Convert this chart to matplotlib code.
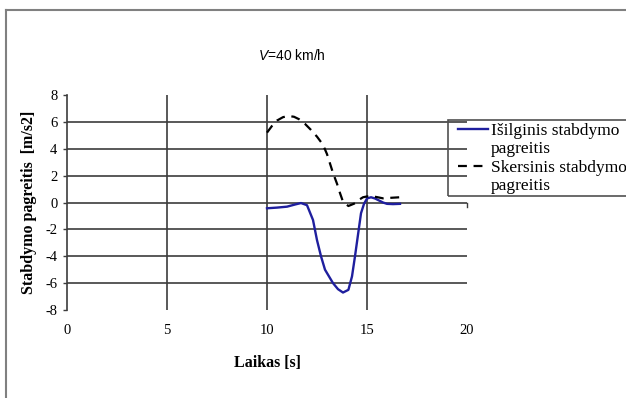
import matplotlib
matplotlib.use("Agg")
from matplotlib import pyplot as plt
from matplotlib.lines import Line2D
from matplotlib.patches import Rectangle

# values
t_long = [10.0, 10.5, 11.0, 11.4, 11.7, 12.0, 12.3, 12.5, 12.7, 12.9, 13.1, 13.3, 13.55,
          13.8, 14.07, 14.25, 14.4, 14.55, 14.7, 14.85, 15.0, 15.2, 15.4, 15.6, 15.8, 16.0, 16.3, 16.65]
a_long = [-0.43, -0.38, -0.31, -0.15, -0.04, -0.2, -1.3, -2.8, -4.0, -5.0, -5.5, -6.0, -6.45,
          -6.7, -6.5, -5.5, -4.0, -2.4, -0.8, -0.1, 0.3, 0.39, 0.3, 0.15, 0.0, -0.1, -0.12, -0.1]

t_lat = [10.0, 10.25, 10.5, 10.8, 11.07, 11.35, 11.6, 11.9, 12.2, 12.5, 12.8, 13.0, 13.15,
         13.3, 13.5, 13.65, 13.8, 14.07, 14.4, 14.6, 14.8, 15.0, 15.2, 15.5, 15.8, 16.2, 16.65]
a_lat = [5.2, 5.7, 6.1, 6.35, 6.44, 6.38, 6.2, 5.85, 5.4, 4.9, 4.3, 3.6, 2.9,
         2.2, 1.4, 0.7, 0.06, -0.26, -0.06, 0.2, 0.39, 0.45, 0.48, 0.4, 0.31, 0.35, 0.39]

x_ticks = [0, 5, 10, 15, 20]
y_ticks = [-8, -6, -4, -2, 0, 2, 4, 6, 8]
labels = ["Išilginis stabdymo", "pagreitis", "Skersinis stabdymo", "pagreitis"]

plt.rcParams['mathtext.fontset'] = 'custom'
plt.rcParams['mathtext.it'] = 'Liberation Sans:italic'
plt.rcParams['mathtext.rm'] = 'Liberation Sans'
plt.rcParams['axes.unicode_minus'] = False

W, H = 626, 398
fig = plt.figure(figsize=(W / 100, H / 100), dpi=100)
ax = fig.add_axes([67 / W, (H - 310) / H, 400 / W, 215 / H])

grid_c = '#3c3c3c'
ax.plot(t_long, a_long, color='#1f1f9e', lw=1.7, zorder=3)
ax.plot(t_lat, a_lat, color='black', lw=1.6, ls=(0, (4, 3)), zorder=3)

ax.set_xlim(0, 20)
ax.set_ylim(-8, 8)
ax.set_xticks(x_ticks)
ax.set_yticks(y_ticks)
ax.grid(True, color=grid_c, lw=1.2)
for g in (ax.yaxis.get_gridlines()[0], ax.yaxis.get_gridlines()[-1],
          ax.xaxis.get_gridlines()[0], ax.xaxis.get_gridlines()[-1]):
    g.set_visible(False)
for s in ('top', 'right', 'bottom'):
    ax.spines[s].set_visible(False)
ax.spines['left'].set_color(grid_c)
ax.spines['left'].set_linewidth(1.2)
ax.tick_params(axis='y', length=3, width=1.0, color=grid_c, pad=4)
ax.tick_params(axis='x', length=0, pad=10)
for lab in ax.get_xticklabels() + ax.get_yticklabels():
    lab.set_fontfamily('Liberation Serif')
    lab.set_fontsize(10.5)
# small tick at the end of the zero line
ax.plot([20, 20], [0, -0.3], color=grid_c, lw=1.0, clip_on=False)

ax.set_xlabel('Laikas [s]', fontfamily='Liberation Serif', fontweight='bold',
              fontsize=11.5, labelpad=13)
ax.set_ylabel('Stabdymo pagreitis  [m/s2]', fontfamily='Liberation Serif',
              fontweight='bold', fontsize=11.5, labelpad=6)

fig.text(292 / W, 1 - 56 / H, r'$V$=40 km/h', family='Liberation Sans',
         fontsize=10, ha='center', va='center')

# legend
handles = [Line2D([], [], color='#1f1f9e', lw=1.7), Line2D([], [], lw=0),
           Line2D([], [], color='black', lw=1.6, ls=(0, (4, 3))), Line2D([], [], lw=0)]
leg = fig.legend(handles, labels, loc='upper left',
                 bbox_to_anchor=(458 / W, 1 - 123 / H), frameon=False,
                 prop={'family': 'Liberation Serif', 'size': 12.5},
                 handlelength=1.75, handletextpad=0.15, labelspacing=0.12,
                 borderpad=0.0, borderaxespad=0)
fig.add_artist(Rectangle((448 / W, 1 - 196 / H), 200 / W, 76 / H,
                         transform=fig.transFigure, fill=False,
                         edgecolor='#505050', lw=1.2))

# outer chart frame
fig.add_artist(Line2D([6 / W, 1.0], [1 - 10 / H, 1 - 10 / H],
                      transform=fig.transFigure, color='#808080', lw=1.5))
fig.add_artist(Line2D([6 / W, 6 / W], [0, 1 - 10 / H],
                      transform=fig.transFigure, color='#808080', lw=1.5))

fig.savefig('out.png', dpi=100)
